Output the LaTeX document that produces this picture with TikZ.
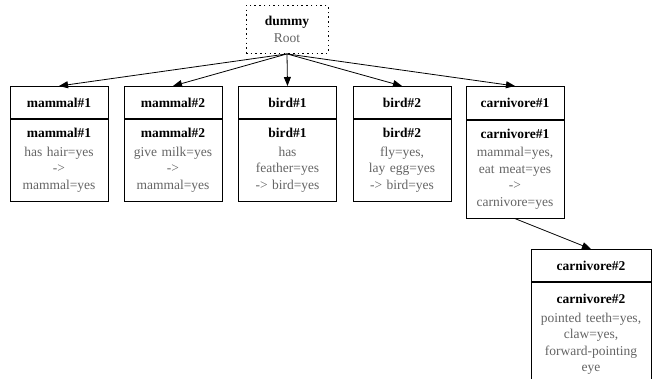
\documentclass[tikz,border=0pt]{standalone}
\usepackage{fontspec}
\setmainfont{Liberation Serif}
\usetikzlibrary{arrows.meta}
\definecolor{ruletext}{RGB}{100,100,100}
\begin{document}
\begin{tikzpicture}[x=1pt,y=-1pt,
  txt/.style={font=\fontsize{13.5}{16.5}\selectfont},
  box/.style={draw, line width=0.8pt, minimum width=98pt, inner sep=0pt,
    anchor=north, align=center, txt},
  head/.style={box, minimum height=32pt, font=\fontsize{13.5}{16.5}\selectfont\bfseries},
  body/.style={box, text width=96pt},
  link/.style={line width=0.8pt, -{Triangle[length=9pt,width=7pt]}},
  rootbox/.style={draw, line width=0.9pt, dash pattern=on 1.5pt off 3.2pt,
    minimum width=82pt, minimum height=48pt, inner sep=0pt, anchor=north,
    align=center, txt}
]
\useasboundingbox (0,0) rectangle (653,378);
\clip (0,0) rectangle (653,378);

% root of the rule tree
\node[rootbox] (root) at (287,5) {\textbf{dummy}\\[0.5pt]\textcolor{ruletext}{Root}};

% rule boxes: a header and a body each
\node[head] (m1h) at (59,86) {mammal\#1};
\node[body, minimum height=82pt] (m1b) at (m1h.south)
  {\textbf{mammal\#1}\\[2pt]\color{ruletext}has hair=yes\\->\\mammal=yes};

\node[head] (m2h) at (173,86) {mammal\#2};
\node[body, minimum height=82pt] (m2b) at (m2h.south)
  {\textbf{mammal\#2}\\[2pt]\color{ruletext}give milk=yes\\->\\mammal=yes};

\node[head] (b1h) at (287.5,86) {bird\#1};
\node[body, minimum height=82pt] (b1b) at (b1h.south)
  {\textbf{bird\#1}\\[2pt]\color{ruletext}has\\feather=yes\\-> bird=yes};

\node[head] (b2h) at (402,86) {bird\#2};
\node[body, minimum height=82pt] (b2b) at (b2h.south)
  {\textbf{bird\#2}\\[2pt]\color{ruletext}fly=yes,\\lay egg=yes\\-> bird=yes};

\node[head, minimum height=33pt] (c1h) at (515,86) {carnivore\#1};
\node[body, minimum height=98pt] (c1b) at (c1h.south)
  {\textbf{carnivore\#1}\\[2pt]\color{ruletext}mammal=yes,\\eat meat=yes\\->\\carnivore=yes};

\node[head, minimum width=120pt] (c2h) at (591,249) {carnivore\#2};
\node[body, minimum width=120pt, text width=118pt, minimum height=105pt] (c2b) at (c2h.south)
  {\textbf{carnivore\#2}\\[2pt]\color{ruletext}pointed teeth=yes,\\claw=yes,\\forward-pointing\\eye};

% connectors
\foreach \t in {m1h,m2h,b1h,b2h,c1h}
  \draw[link] (root.south) -- (\t.north);
\draw[link] (c1b.south) -- (c2h.north);
\end{tikzpicture}
\end{document}
